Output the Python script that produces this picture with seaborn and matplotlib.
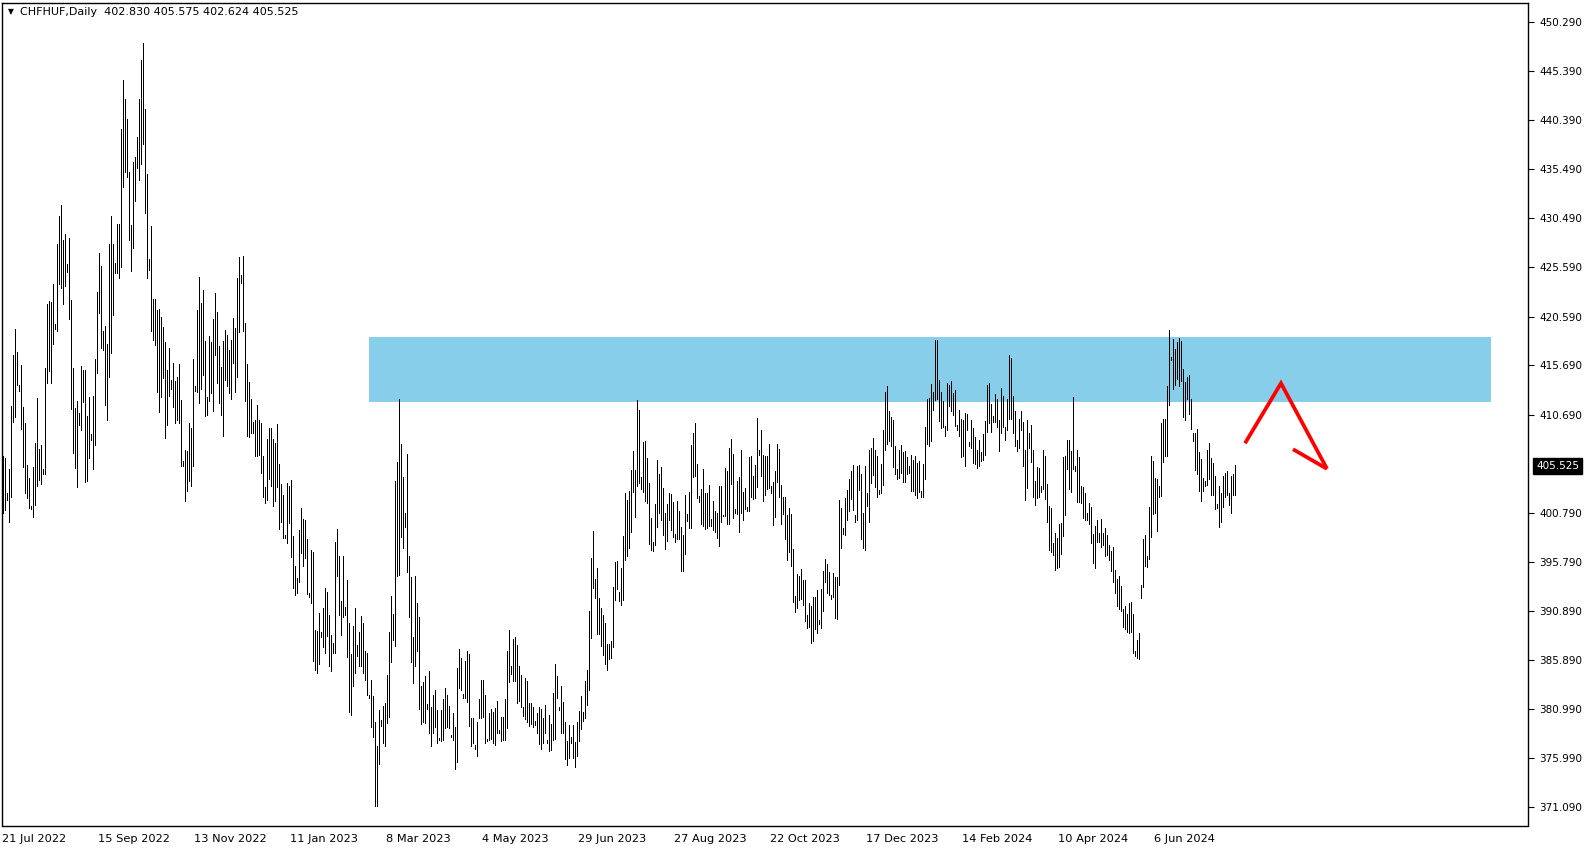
import numpy as np
import pandas as pd
import matplotlib
matplotlib.use("Agg")
import matplotlib.pyplot as plt
import matplotlib.transforms as mtransforms
from matplotlib.patches import Rectangle
import seaborn as sns

# ---- data (one entry per bar) ----
bar_high = [
    406.5, 406.3, 402.8, 405.2, 411.6, 416.7, 419.3, 417.0, 413.7, 415.7,
    411.5, 409.8, 405.6, 404.3, 401.5, 405.4, 407.8, 412.4, 407.2, 407.6,
    405.2, 415.4, 421.9, 422.2, 422.1, 423.9, 419.8, 427.9, 430.7, 431.9,
    428.3, 428.9, 425.9, 428.5, 422.3, 415.4, 411.4, 412.1, 410.9, 415.6,
    415.2, 415.2, 410.6, 412.5, 408.7, 412.6, 416.3, 423.1, 427.0, 425.7,
    419.1, 419.6, 417.8, 427.9, 430.7, 427.9, 426.0, 429.9, 429.9, 439.5,
    444.5, 442.6, 440.5, 435.2, 429.8, 436.2, 436.7, 438.7, 442.5, 446.5,
    448.2, 441.5, 435.0, 426.4, 429.7, 422.4, 422.4, 421.3, 421.4, 420.5,
    419.5, 418.0, 415.2, 417.4, 414.2, 415.9, 414.1, 414.5, 415.8, 412.2,
    406.0, 407.1, 407.0, 409.8, 409.3, 416.3, 413.6, 421.3, 424.6, 422.0,
    423.3, 418.1, 412.5, 418.6, 418.0, 420.3, 423.0, 421.1, 417.6, 415.5,
    418.1, 419.2, 418.7, 417.2, 418.2, 420.4, 419.4, 424.5, 426.6, 424.8,
    426.7, 419.9, 415.8, 414.0, 412.3, 409.9, 410.2, 411.7, 410.2, 409.8,
    406.5, 403.4, 408.2, 409.3, 409.3, 408.2, 407.8, 409.7, 405.7, 403.7,
    402.6, 398.5, 403.8, 403.5, 404.1, 398.4, 395.4, 394.2, 399.0, 401.3,
    400.2, 400.1, 398.1, 392.7, 397.0, 396.8, 389.0, 388.9, 390.7, 388.8,
    391.2, 393.2, 392.8, 390.5, 388.4, 387.6, 397.8, 399.1, 396.4, 391.9,
    396.4, 391.3, 394.0, 389.7, 386.5, 389.4, 391.2, 387.4, 388.8, 390.4,
    389.7, 386.8, 386.6, 382.4, 383.9, 382.3, 379.7, 377.2, 380.9, 379.9,
    381.3, 381.6, 384.4, 388.8, 392.4, 390.6, 404.0, 405.9, 412.3, 407.7,
    404.4, 400.8, 406.7, 396.4, 394.3, 388.2, 394.4, 391.7, 390.3, 383.3,
    383.7, 384.3, 381.5, 384.8, 381.2, 382.4, 382.9, 380.9, 378.1, 380.9,
    382.0, 383.1, 382.4, 381.3, 378.4, 380.6, 379.2, 385.1, 387.0, 386.1,
    382.5, 385.8, 386.8, 386.5, 380.1, 380.1, 377.3, 379.7, 382.0, 383.9,
    383.9, 382.4, 378.0, 380.6, 381.0, 380.7, 381.1, 381.8, 378.9, 380.2,
    380.2, 382.0, 386.8, 389.0, 385.3, 388.0, 388.2, 387.4, 385.3, 384.4,
    381.2, 384.1, 383.8, 381.6, 381.6, 381.2, 379.8, 380.6, 381.2, 381.0,
    380.1, 381.4, 377.9, 380.4, 379.5, 382.6, 385.5, 384.3, 381.2, 383.3,
    381.7, 379.7, 377.7, 379.4, 378.2, 379.4, 377.6, 379.7, 380.8, 382.3,
    380.7, 383.8, 384.9, 390.9, 396.2, 398.9, 394.1, 395.2, 392.2, 391.2,
    390.5, 389.7, 387.5, 387.5, 387.8, 393.3, 395.8, 395.9, 392.8, 395.2,
    398.4, 402.8, 402.1, 403.0, 405.1, 407.0, 405.1, 412.2, 411.2, 404.4,
    407.9, 408.0, 406.3, 403.8, 400.3, 397.8, 401.7, 406.1, 404.7, 405.4,
    403.3, 400.8, 401.7, 402.8, 402.7, 401.9, 398.6, 402.0, 401.0, 399.3,
    398.5, 402.6, 400.7, 402.9, 407.6, 408.8, 409.8, 405.7, 402.5, 403.2,
    405.2, 402.8, 402.8, 403.6, 400.2, 402.0, 401.0, 400.8, 403.5, 403.5,
    400.6, 405.3, 405.0, 407.3, 408.2, 406.7, 401.2, 404.0, 404.4, 407.1,
    402.9, 403.3, 401.4, 406.4, 406.5, 404.5, 405.6, 410.4, 407.1, 409.1,
    406.6, 406.5, 406.5, 407.7, 403.5, 403.9, 405.0, 407.7, 407.2, 403.6,
    402.4, 402.4, 400.6, 401.3, 400.7, 397.1, 392.4, 394.6, 394.4, 395.1,
    394.0, 394.0, 390.5, 391.7, 391.4, 392.3, 392.3, 393.0, 390.0, 393.1,
    394.9, 396.1, 395.6, 394.8, 392.5, 394.7, 394.3, 394.3, 402.1, 401.3,
    399.2, 402.3, 403.1, 404.2, 405.0, 405.6, 400.6, 405.5, 405.6, 404.7,
    400.8, 405.5, 402.8, 407.1, 407.3, 408.3, 407.1, 406.5, 403.1, 405.7,
    409.1, 413.0, 413.6, 411.1, 410.5, 410.1, 407.5, 405.2, 407.1, 407.6,
    406.9, 407.0, 406.4, 405.5, 406.6, 406.1, 406.5, 405.8, 406.0, 403.0,
    405.7, 409.4, 412.3, 412.4, 413.8, 413.0, 418.2, 418.2, 414.2, 413.0,
    412.1, 409.5, 413.9, 413.7, 414.1, 412.9, 413.2, 409.6, 411.2, 410.3,
    410.1, 410.9, 410.8, 407.9, 410.1, 409.3, 408.4, 407.1, 408.1, 406.9,
    408.7, 410.0, 413.7, 413.9, 411.8, 410.6, 412.8, 412.3, 410.2, 413.4,
    412.6, 409.4, 412.3, 416.7, 416.4, 412.6, 411.1, 408.1, 410.3, 411.1,
    409.9, 407.1, 410.2, 408.8, 409.6, 407.1, 404.0, 405.4, 405.3, 403.5,
    407.1, 406.5, 403.7, 401.5, 401.3, 397.7, 398.7, 398.2, 399.7, 399.8,
    406.4, 406.5, 408.1, 408.1, 407.0, 412.5, 405.5, 407.1, 406.4, 403.5,
    403.4, 402.8, 400.8, 401.8, 401.4, 398.6, 399.5, 400.1, 398.7, 400.2,
    398.7, 399.2, 398.5, 397.5, 396.9, 397.3, 395.0, 394.1, 394.4, 393.4,
    391.1, 391.4, 390.6, 391.7, 391.8, 390.6, 386.8, 387.9, 388.6, 393.5,
    398.1, 398.5, 396.4, 401.4, 406.5, 406.0, 404.3, 404.2, 403.5, 409.8,
    410.3, 410.3, 413.6, 419.2, 416.5, 418.3, 417.3, 418.0, 418.4, 418.1,
    415.3, 414.0, 414.5, 414.7, 412.3, 408.8, 408.8, 409.2, 406.9, 406.2,
    404.3, 404.0, 407.1, 407.8, 406.3, 405.8, 404.5, 401.7, 403.5, 402.8,
    404.5, 404.8, 405.0, 402.8, 404.5, 404.7, 405.575,
]

bar_low = [
    400.8, 401.1, 402.1, 399.9, 402.4, 409.9, 410.5, 413.7, 413.1, 409.2,
    405.4, 402.8, 402.3, 401.3, 401.2, 400.4, 401.6, 403.5, 404.1, 403.7,
    404.7, 404.7, 413.9, 415.1, 413.9, 417.8, 419.3, 419.1, 423.9, 423.5,
    421.9, 423.7, 425.1, 420.3, 411.3, 406.8, 405.3, 403.4, 409.6, 409.1,
    412.0, 403.9, 404.0, 406.3, 408.1, 405.2, 407.6, 414.9, 420.9, 417.4,
    417.2, 411.7, 410.2, 414.5, 416.9, 420.7, 425.0, 425.0, 424.5, 425.6,
    433.7, 435.2, 434.7, 428.3, 425.2, 427.5, 432.3, 435.6, 434.4, 436.0,
    438.0, 431.0, 424.5, 425.3, 419.1, 418.2, 417.7, 413.0, 411.0, 412.5,
    414.4, 408.3, 409.6, 412.6, 413.3, 411.5, 409.8, 410.2, 409.8, 405.5,
    405.5, 402.0, 403.0, 404.0, 403.5, 405.5, 413.1, 413.0, 411.9, 413.3,
    414.7, 410.6, 410.7, 412.1, 412.9, 411.1, 416.7, 413.9, 411.9, 410.7,
    408.5, 414.2, 413.6, 412.9, 412.3, 415.9, 413.0, 414.5, 419.0, 424.0,
    419.1, 412.1, 408.5, 408.4, 408.8, 408.8, 406.5, 406.5, 406.6, 404.8,
    402.4, 401.8, 402.1, 404.2, 403.5, 401.5, 402.0, 403.4, 399.1, 399.9,
    398.2, 398.2, 397.7, 399.8, 396.3, 393.2, 392.5, 392.7, 393.8, 396.7,
    395.4, 396.2, 392.6, 392.3, 391.7, 385.8, 384.9, 384.6, 385.5, 388.2,
    387.2, 386.6, 388.3, 385.3, 384.8, 386.6, 386.6, 394.4, 390.5, 388.4,
    390.3, 390.5, 386.2, 380.7, 380.4, 383.3, 384.6, 386.3, 385.3, 385.3,
    384.6, 383.9, 382.4, 382.1, 379.2, 378.2, 371.2, 371.2, 375.4, 379.3,
    377.5, 377.2, 379.6, 380.2, 385.7, 387.9, 387.3, 394.4, 394.5, 398.3,
    397.2, 399.3, 394.8, 390.3, 385.7, 383.6, 385.3, 386.8, 381.0, 379.5,
    379.7, 379.6, 381.0, 378.6, 377.2, 378.6, 379.2, 377.5, 377.9, 377.7,
    377.9, 379.1, 379.2, 379.1, 378.2, 377.8, 374.9, 375.6, 383.1, 382.9,
    382.1, 382.1, 381.7, 379.3, 377.2, 377.5, 376.9, 376.2, 380.1, 380.1,
    380.2, 377.5, 377.7, 377.9, 378.0, 377.5, 377.3, 378.6, 378.6, 377.7,
    377.8, 377.9, 379.1, 383.7, 384.5, 383.8, 383.8, 381.6, 381.8, 381.2,
    380.3, 380.0, 379.7, 379.3, 379.5, 379.2, 379.4, 378.6, 377.4, 376.9,
    377.5, 378.6, 377.5, 376.7, 376.8, 377.9, 378.0, 382.1, 380.9, 378.6,
    378.6, 375.9, 375.3, 376.0, 377.5, 376.0, 375.1, 376.2, 377.7, 379.0,
    379.8, 380.1, 381.4, 382.9, 388.1, 393.2, 392.2, 388.5, 388.5, 387.3,
    386.4, 385.5, 384.9, 386.0, 386.1, 387.2, 392.0, 393.1, 391.9, 391.5,
    392.0, 396.0, 396.4, 397.2, 398.8, 402.9, 400.4, 403.5, 403.8, 403.2,
    402.9, 402.0, 401.8, 397.6, 397.0, 396.9, 397.5, 399.3, 400.8, 400.1,
    398.5, 397.1, 397.9, 400.1, 399.0, 398.3, 397.8, 398.1, 398.1, 394.9,
    394.9, 396.6, 400.0, 399.2, 399.2, 404.4, 404.5, 402.3, 401.9, 399.7,
    399.5, 399.1, 399.2, 399.5, 399.5, 399.0, 398.8, 398.2, 397.4, 399.9,
    400.5, 400.5, 399.7, 399.7, 403.7, 400.3, 400.8, 400.7, 398.8, 400.8,
    400.1, 401.2, 401.0, 401.0, 402.4, 402.2, 402.3, 403.4, 406.6, 404.5,
    402.0, 402.6, 403.2, 403.3, 402.8, 399.6, 400.4, 403.9, 402.4, 399.7,
    400.7, 398.1, 396.0, 396.8, 395.4, 391.8, 390.8, 391.2, 392.0, 392.1,
    391.5, 389.9, 389.2, 389.3, 387.6, 387.8, 389.1, 388.7, 389.6, 389.2,
    390.9, 393.8, 392.7, 392.5, 392.1, 392.3, 390.2, 390.1, 393.5, 397.2,
    398.6, 398.5, 400.1, 401.0, 402.2, 401.1, 399.9, 400.1, 403.1, 398.1,
    397.2, 397.0, 401.5, 399.9, 403.8, 404.6, 403.4, 402.4, 402.7, 402.8,
    403.6, 407.1, 407.7, 408.0, 407.5, 405.4, 404.7, 404.2, 404.3, 404.8,
    403.9, 403.9, 404.7, 404.8, 403.0, 403.0, 402.6, 402.3, 402.9, 402.4,
    402.4, 404.2, 407.7, 407.5, 408.0, 411.2, 412.2, 412.3, 410.0, 409.3,
    409.4, 408.5, 409.1, 411.6, 411.1, 410.7, 409.5, 409.1, 408.5, 406.4,
    406.5, 405.5, 409.1, 407.5, 407.3, 405.8, 405.7, 405.3, 405.5, 406.0,
    406.1, 406.6, 408.9, 409.8, 408.9, 409.9, 409.9, 409.4, 407.0, 408.8,
    409.4, 408.1, 409.1, 410.3, 410.3, 408.8, 407.5, 407.0, 407.3, 409.1,
    405.5, 402.1, 403.3, 407.3, 405.9, 402.4, 401.6, 402.3, 402.4, 402.9,
    403.2, 402.2, 399.9, 397.0, 396.8, 396.5, 395.0, 395.2, 395.3, 396.6,
    398.4, 400.6, 405.2, 403.2, 402.9, 405.2, 405.0, 401.9, 401.9, 401.8,
    400.3, 400.1, 400.1, 399.7, 397.7, 395.7, 395.2, 397.8, 397.8, 397.3,
    397.5, 396.4, 396.5, 396.0, 394.9, 393.8, 392.7, 391.4, 391.1, 390.9,
    389.3, 389.1, 388.8, 388.6, 388.8, 386.6, 386.3, 386.1, 386.0, 392.2,
    393.3, 395.4, 395.3, 396.1, 398.3, 400.7, 400.8, 398.9, 402.4, 402.5,
    405.9, 406.5, 406.5, 411.7, 416.2, 413.3, 413.7, 414.3, 413.6, 414.1,
    410.5, 410.2, 412.3, 410.8, 409.2, 408.0, 405.1, 404.7, 403.0, 402.0,
    403.0, 403.5, 403.6, 404.2, 402.6, 402.6, 401.2, 401.3, 399.3, 399.9,
    401.4, 402.4, 402.6, 401.6, 400.8, 402.6, 402.624,
]

date_labels = ["21 Jul 2022", "15 Sep 2022", "13 Nov 2022", "11 Jan 2023",
               "8 Mar 2023", "4 May 2023", "29 Jun 2023", "27 Aug 2023",
               "22 Oct 2023", "17 Dec 2023", "14 Feb 2024", "10 Apr 2024",
               "6 Jun 2024"]
date_bars = [1, 49, 97, 145, 193, 241, 289, 337, 385, 433, 481, 529, 577]

price_ticks = [450.290, 445.390, 440.390, 435.490, 430.490, 425.590, 420.590,
               415.690, 410.690, 400.790, 395.790, 390.890, 385.890, 380.990,
               375.990, 371.090]

last_ohlc = [402.830, 405.575, 402.624, 405.525]

# resistance zone and the drawn arrow
zone_bars = [184, 744.75]
zone_prices = [412.0, 418.56]
arrow_bars = [622, 640, 663]
arrow_prices = [407.8, 413.86, 405.22]
barb_bars = [646, 663]
barb_prices = [407.2, 405.22]

assert len(bar_high) == len(bar_low)
bars = pd.DataFrame({"bar": np.arange(1, len(bar_high) + 1),
                     "high": bar_high, "low": bar_low})

sns.set_theme(style="white")
plt.rcParams["font.family"] = ["DejaVu Sans"]
plt.rcParams["font.size"] = 7.5

W, H = 1592, 850
fig = plt.figure(figsize=(W / 100, H / 100), dpi=100)
left, right, top, bottom = 2, 1528, 3, 825.5
ax = fig.add_axes([left / W, 1 - bottom / H, (right - left) / W, (bottom - top) / H])
ax.set_xlim(0.5, 763.5)
ax.set_ylim(369.22, 452.24)

# zone behind the bars
ax.add_patch(Rectangle((zone_bars[0], zone_prices[0]),
                       zone_bars[1] - zone_bars[0],
                       zone_prices[1] - zone_prices[0],
                       facecolor="#87CEEB", edgecolor="none", zorder=1))

ax.vlines(bars["bar"], bars["low"], bars["high"], colors="black",
          linewidth=0.6, antialiased=False, zorder=2)

ax.plot(arrow_bars, arrow_prices, color="red", linewidth=2.7, zorder=3,
        solid_capstyle="butt", solid_joinstyle="miter")
ax.plot(barb_bars, barb_prices, color="red", linewidth=2.7, zorder=3,
        solid_capstyle="butt")

# axes look
for sp in ax.spines.values():
    sp.set_color("black")
    sp.set_linewidth(1.0)
    sp.set_visible(True)

ax.yaxis.tick_right()
ax.set_yticks(price_ticks)
ax.set_yticklabels([f"{v:.3f}" for v in price_ticks])
ax.tick_params(axis="y", direction="out", length=4, width=0.8, pad=4,
               colors="black", labelsize=7.5, left=False, right=True)

ax.set_xticks(date_bars)
ax.set_xticklabels(date_labels)
ax.tick_params(axis="x", direction="out", length=3, width=0.8, pad=3,
               colors="black", labelsize=8.2)
offset = mtransforms.ScaledTranslation(-1 / 100, 0, fig.dpi_scale_trans)
for lbl in ax.get_xticklabels():
    lbl.set_horizontalalignment("left")
    lbl.set_transform(lbl.get_transform() + offset)

ax.grid(False)

# current price marker on the price scale
trans = mtransforms.blended_transform_factory(ax.transAxes, ax.transData)
ax.text(1 + 8 / (right - left), last_ohlc[3], f"{last_ohlc[3]:.3f}",
        transform=trans, ha="left", va="center", color="white", fontsize=7.5,
        bbox=dict(boxstyle="square,pad=0.3", facecolor="black", edgecolor="black"),
        clip_on=False, zorder=5)

# header
fig.text(8 / W, 1 - 12 / H, "\u25BC", fontsize=5.5, color="black", va="center")
fig.text(20 / W, 1 - 12 / H,
         "CHFHUF,Daily  " + " ".join(f"{v:.3f}" for v in last_ohlc),
         fontsize=8, color="black", va="center")

fig.savefig("out.png", dpi=100, facecolor="white")
